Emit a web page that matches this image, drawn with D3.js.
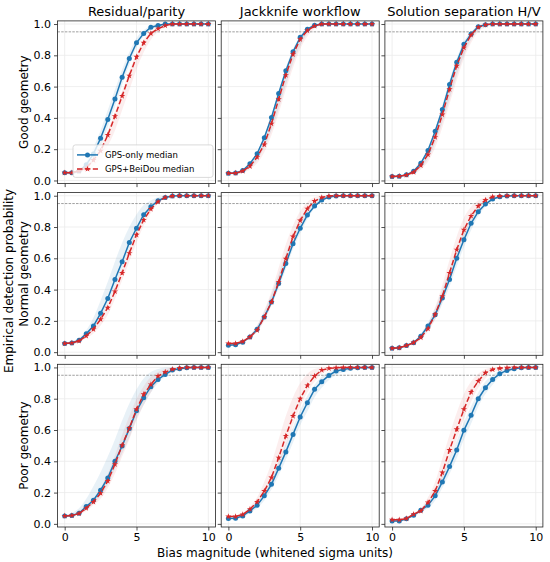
<!DOCTYPE html>
<html>
<head>
<meta charset="utf-8">
<script src="https://cdn.jsdelivr.net/npm/d3@7"></script>
<style>
  body { margin: 0; background: #fff; }
  text { font-family: "DejaVu Sans", sans-serif; fill: #000; }
</style>
</head>
<body>
<script>
// chart size
const width = 550;
const height = 562;

// labels
const colNames = ["Residual/parity", "Jackknife workflow", "Solution separation H/V"];
const rowNames = ["Good geometry", "Normal geometry", "Poor geometry"];
const xTicks = [0, 5, 10];
const yTicks = [0, 0.2, 0.4, 0.6, 0.8, 1.0];
const threshold = 0.95;

// bias magnitudes (x)
const biasX = [0, 0.5, 1, 1.5, 2, 2.5, 3, 3.5, 4, 4.5, 5, 5.5, 6, 6.5, 7, 7.5, 8, 8.5, 9, 9.5, 10];

// good geometry - residual/parity
const goodResGps   = [0.05,0.05,0.06,0.10,0.17,0.27,0.39,0.52,0.66,0.78,0.88,0.94,0.98,0.99,1,1,1,1,1,1,1];
const goodResGpsLo = [0.04,0.04,0.05,0.08,0.13,0.22,0.34,0.47,0.61,0.74,0.85,0.92,0.96,0.98,0.99,1,1,1,1,1,1];
const goodResGpsHi = [0.06,0.06,0.07,0.12,0.21,0.32,0.45,0.58,0.71,0.82,0.91,0.96,0.99,1,1,1,1,1,1,1,1];
const goodResBds   = [0.05,0.05,0.06,0.08,0.13,0.19,0.29,0.41,0.54,0.67,0.79,0.88,0.94,0.97,0.99,1,1,1,1,1,1];
const goodResBdsLo = [0.04,0.04,0.05,0.06,0.09,0.14,0.22,0.32,0.45,0.58,0.71,0.82,0.90,0.95,0.98,0.99,1,1,1,1,1];
const goodResBdsHi = [0.06,0.06,0.07,0.09,0.15,0.22,0.32,0.44,0.57,0.70,0.81,0.90,0.95,0.98,1,1,1,1,1,1,1];

// good geometry - jackknife
const goodJkGps   = [0.046,0.047,0.064,0.107,0.171,0.273,0.402,0.556,0.701,0.823,0.915,0.967,0.992,1,1,1,1,1,1,1,1];
const goodJkGpsLo = [0.04,0.04,0.05,0.08,0.13,0.21,0.32,0.46,0.61,0.75,0.86,0.94,0.98,0.99,1,1,1,1,1,1,1];
const goodJkGpsHi = [0.05,0.05,0.07,0.12,0.18,0.29,0.42,0.57,0.72,0.84,0.92,0.97,1,1,1,1,1,1,1,1,1];
const goodJkBds   = [0.046,0.047,0.06,0.091,0.149,0.23,0.363,0.519,0.673,0.806,0.902,0.958,0.988,1,1,1,1,1,1,1,1];
const goodJkBdsLo = [0.04,0.04,0.05,0.07,0.11,0.18,0.29,0.43,0.58,0.72,0.84,0.92,0.97,0.99,1,1,1,1,1,1,1];
const goodJkBdsHi = [0.05,0.05,0.07,0.10,0.16,0.25,0.38,0.53,0.69,0.82,0.91,0.96,0.99,1,1,1,1,1,1,1,1];

// good geometry - solution separation
const goodSsGps   = [0.025,0.027,0.036,0.059,0.11,0.192,0.314,0.453,0.614,0.755,0.87,0.936,0.983,0.995,1,1,1,1,1,1,1];
const goodSsGpsLo = [0.02,0.02,0.03,0.05,0.08,0.14,0.24,0.37,0.52,0.67,0.80,0.90,0.96,0.99,1,1,1,1,1,1,1];
const goodSsGpsHi = [0.03,0.03,0.04,0.07,0.12,0.21,0.33,0.48,0.64,0.78,0.89,0.95,0.99,1,1,1,1,1,1,1,1];
const goodSsBds   = [0.025,0.027,0.035,0.053,0.096,0.166,0.277,0.421,0.583,0.733,0.849,0.93,0.98,0.995,1,1,1,1,1,1,1];
const goodSsBdsLo = [0.02,0.02,0.03,0.04,0.07,0.12,0.21,0.34,0.49,0.64,0.78,0.88,0.95,0.98,1,1,1,1,1,1,1];
const goodSsBdsHi = [0.03,0.03,0.04,0.06,0.11,0.19,0.30,0.45,0.61,0.76,0.87,0.94,0.99,1,1,1,1,1,1,1,1];

// normal geometry - residual/parity
const normResGps   = [0.055,0.059,0.076,0.117,0.167,0.248,0.343,0.464,0.578,0.701,0.792,0.879,0.93,0.968,0.989,0.998,1,1,1,1,1];
const normResGpsLo = [0.05,0.05,0.07,0.10,0.15,0.22,0.31,0.42,0.54,0.66,0.76,0.86,0.92,0.96,0.98,0.99,1,1,1,1,1];
const normResGpsHi = [0.06,0.07,0.09,0.14,0.22,0.33,0.45,0.58,0.70,0.80,0.88,0.94,0.97,0.99,1,1,1,1,1,1,1];
const normResBds   = [0.055,0.059,0.072,0.104,0.146,0.21,0.284,0.388,0.506,0.633,0.75,0.845,0.915,0.962,0.989,0.998,1,1,1,1,1];
const normResBdsLo = [0.05,0.05,0.06,0.09,0.12,0.17,0.24,0.34,0.46,0.58,0.70,0.81,0.89,0.95,0.98,0.99,1,1,1,1,1];
const normResBdsHi = [0.06,0.07,0.08,0.11,0.16,0.23,0.31,0.42,0.54,0.66,0.78,0.87,0.93,0.97,0.99,1,1,1,1,1,1];

// normal geometry - jackknife
const normJkGps   = [0.044,0.047,0.064,0.097,0.146,0.225,0.32,0.439,0.566,0.693,0.792,0.877,0.934,0.972,0.992,0.998,1,1,1,1,1];
const normJkGpsLo = [0.04,0.04,0.06,0.09,0.13,0.21,0.30,0.41,0.53,0.66,0.76,0.85,0.92,0.96,0.99,0.99,1,1,1,1,1];
const normJkGpsHi = [0.05,0.05,0.07,0.11,0.17,0.26,0.37,0.50,0.63,0.75,0.85,0.92,0.96,0.99,1,1,1,1,1,1,1];
const normJkBds   = [0.055,0.056,0.068,0.097,0.14,0.225,0.32,0.449,0.597,0.739,0.841,0.917,0.966,0.989,0.998,1,1,1,1,1,1];
const normJkBdsLo = [0.05,0.05,0.06,0.09,0.13,0.20,0.30,0.42,0.56,0.70,0.81,0.89,0.95,0.98,0.99,1,1,1,1,1,1];
const normJkBdsHi = [0.06,0.06,0.08,0.11,0.17,0.27,0.39,0.54,0.69,0.81,0.90,0.96,0.99,1,1,1,1,1,1,1,1];

// normal geometry - solution separation
const normSsGps   = [0.025,0.028,0.042,0.061,0.102,0.167,0.239,0.347,0.464,0.6,0.718,0.824,0.898,0.947,0.979,0.994,0.998,1,1,1,1];
const normSsGpsLo = [0.02,0.02,0.04,0.05,0.09,0.15,0.21,0.31,0.42,0.55,0.67,0.78,0.87,0.93,0.97,0.99,1,1,1,1,1];
const normSsGpsHi = [0.03,0.03,0.05,0.07,0.12,0.19,0.28,0.40,0.53,0.66,0.77,0.86,0.93,0.97,0.99,1,1,1,1,1,1];
const normSsBds   = [0.025,0.028,0.042,0.061,0.093,0.15,0.242,0.358,0.506,0.655,0.782,0.871,0.934,0.972,0.994,0.998,1,1,1,1,1];
const normSsBdsLo = [0.02,0.02,0.04,0.05,0.08,0.13,0.21,0.32,0.46,0.61,0.74,0.84,0.91,0.96,0.99,0.99,1,1,1,1,1];
const normSsBdsHi = [0.03,0.03,0.05,0.07,0.11,0.18,0.29,0.43,0.59,0.74,0.86,0.93,0.97,0.99,1,1,1,1,1,1,1];

// poor geometry - residual/parity
const poorResGps   = [0.051,0.053,0.068,0.111,0.151,0.215,0.294,0.4,0.498,0.609,0.723,0.806,0.877,0.923,0.955,0.983,0.991,0.998,1,1,1];
const poorResGpsLo = [0.04,0.05,0.06,0.09,0.13,0.18,0.25,0.35,0.45,0.55,0.67,0.76,0.84,0.90,0.94,0.97,0.98,0.99,1,1,1];
const poorResGpsHi = [0.06,0.07,0.10,0.16,0.24,0.33,0.43,0.54,0.66,0.77,0.86,0.93,0.97,0.99,1,1,1,1,1,1,1];
const poorResBds   = [0.051,0.053,0.066,0.1,0.14,0.196,0.274,0.381,0.502,0.613,0.732,0.828,0.891,0.945,0.97,0.989,0.996,1,1,1,1];
const poorResBdsLo = [0.04,0.05,0.06,0.08,0.12,0.16,0.23,0.32,0.43,0.54,0.66,0.76,0.84,0.91,0.95,0.97,0.99,1,1,1,1];
const poorResBdsHi = [0.06,0.06,0.07,0.11,0.16,0.23,0.32,0.44,0.57,0.69,0.80,0.88,0.94,0.97,0.99,1,1,1,1,1,1];

// poor geometry - jackknife
const poorJkGps   = [0.034,0.036,0.051,0.083,0.119,0.179,0.253,0.355,0.46,0.572,0.683,0.774,0.86,0.909,0.949,0.977,0.987,0.994,0.998,1,1];
const poorJkGpsLo = [0.03,0.03,0.04,0.07,0.10,0.15,0.22,0.31,0.41,0.52,0.63,0.72,0.81,0.87,0.92,0.95,0.97,0.98,0.99,0.99,1];
const poorJkGpsHi = [0.04,0.04,0.06,0.09,0.14,0.21,0.29,0.40,0.51,0.62,0.73,0.82,0.89,0.94,0.97,0.99,1,1,1,1,1];
const poorJkBds   = [0.047,0.047,0.06,0.094,0.14,0.21,0.296,0.423,0.562,0.689,0.8,0.885,0.945,0.983,0.994,0.998,1,1,1,1,1];
const poorJkBdsLo = [0.04,0.04,0.05,0.08,0.12,0.18,0.26,0.37,0.50,0.63,0.75,0.84,0.91,0.96,0.98,0.99,1,1,1,1,1];
const poorJkBdsHi = [0.05,0.05,0.07,0.11,0.17,0.27,0.39,0.54,0.69,0.81,0.90,0.96,0.99,1,1,1,1,1,1,1,1];

// poor geometry - solution separation
const poorSsGps   = [0.019,0.019,0.032,0.055,0.087,0.119,0.179,0.268,0.366,0.472,0.598,0.694,0.8,0.87,0.923,0.96,0.981,0.991,0.998,1,1];
const poorSsGpsLo = [0.01,0.01,0.03,0.05,0.08,0.10,0.15,0.23,0.32,0.42,0.54,0.64,0.75,0.83,0.89,0.94,0.97,0.98,0.99,1,1];
const poorSsGpsHi = [0.02,0.02,0.04,0.06,0.10,0.14,0.21,0.31,0.42,0.53,0.65,0.75,0.84,0.91,0.95,0.98,0.99,1,1,1,1];
const poorSsBds   = [0.026,0.026,0.034,0.062,0.083,0.136,0.21,0.328,0.472,0.604,0.732,0.843,0.913,0.966,0.987,0.994,0.998,1,1,1,1];
const poorSsBdsLo = [0.02,0.02,0.03,0.05,0.07,0.11,0.18,0.28,0.41,0.54,0.67,0.78,0.87,0.93,0.97,0.98,0.99,1,1,1,1];
const poorSsBdsHi = [0.03,0.03,0.04,0.07,0.10,0.17,0.27,0.42,0.57,0.71,0.83,0.91,0.96,0.99,1,1,1,1,1,1,1];

// panel table [row][col]
const panels = [
  [ {gps: goodResGps, gpsLo: goodResGpsLo, gpsHi: goodResGpsHi, bds: goodResBds, bdsLo: goodResBdsLo, bdsHi: goodResBdsHi},
    {gps: goodJkGps,  gpsLo: goodJkGpsLo,  gpsHi: goodJkGpsHi,  bds: goodJkBds,  bdsLo: goodJkBdsLo,  bdsHi: goodJkBdsHi},
    {gps: goodSsGps,  gpsLo: goodSsGpsLo,  gpsHi: goodSsGpsHi,  bds: goodSsBds,  bdsLo: goodSsBdsLo,  bdsHi: goodSsBdsHi} ],
  [ {gps: normResGps, gpsLo: normResGpsLo, gpsHi: normResGpsHi, bds: normResBds, bdsLo: normResBdsLo, bdsHi: normResBdsHi},
    {gps: normJkGps,  gpsLo: normJkGpsLo,  gpsHi: normJkGpsHi,  bds: normJkBds,  bdsLo: normJkBdsLo,  bdsHi: normJkBdsHi},
    {gps: normSsGps,  gpsLo: normSsGpsLo,  gpsHi: normSsGpsHi,  bds: normSsBds,  bdsLo: normSsBdsLo,  bdsHi: normSsBdsHi} ],
  [ {gps: poorResGps, gpsLo: poorResGpsLo, gpsHi: poorResGpsHi, bds: poorResBds, bdsLo: poorResBdsLo, bdsHi: poorResBdsHi},
    {gps: poorJkGps,  gpsLo: poorJkGpsLo,  gpsHi: poorJkGpsHi,  bds: poorJkBds,  bdsLo: poorJkBdsLo,  bdsHi: poorJkBdsHi},
    {gps: poorSsGps,  gpsLo: poorSsGpsLo,  gpsHi: poorSsGpsHi,  bds: poorSsBds,  bdsLo: poorSsBdsLo,  bdsHi: poorSsBdsHi} ]
];

// layout
const left0 = 57.5, top0 = 20.9;
const pw = 158, ph = 162.7;
const colStep = 163.7, rowStep = 171.7;
const blue = "#1f77b4", red = "#d62728";

const svg = d3.select("body").append("svg")
  .attr("width", width)
  .attr("height", height);

// scales (same for every panel, drawn in local coords)
const xScale = d3.scaleLinear().domain([-0.5, 10.5]).range([0, pw]);
const yScale = d3.scaleLinear().domain([-0.02, 1.02]).range([ph, 0]);

const line = d3.line().x((d, i) => xScale(biasX[i])).y(d => yScale(d));
const star = d3.symbol().type(d3.symbolStar).size(12);

panels.forEach((row, r) => {
  row.forEach((p, c) => {
    const g = svg.append("g")
      .attr("transform", `translate(${left0 + c * colStep},${top0 + r * rowStep})`);

    // grid
    g.selectAll(".gx").data(xTicks).enter().append("line")
      .attr("x1", d => xScale(d)).attr("x2", d => xScale(d))
      .attr("y1", 0).attr("y2", ph)
      .attr("stroke", "#ebebeb").attr("stroke-width", 0.8);
    g.selectAll(".gy").data(yTicks).enter().append("line")
      .attr("x1", 0).attr("x2", pw)
      .attr("y1", d => yScale(d)).attr("y2", d => yScale(d))
      .attr("stroke", "#ebebeb").attr("stroke-width", 0.8);

    // bands
    const band = (lo, hi) => d3.area()
      .x((d, i) => xScale(biasX[i]))
      .y0((d, i) => yScale(lo[i]))
      .y1((d, i) => yScale(hi[i]))
      .curve(d3.curveMonotoneX)(biasX);
    g.append("path").attr("d", band(p.gpsLo, p.gpsHi))
      .attr("fill", blue).attr("fill-opacity", 0.1);
    g.append("path").attr("d", band(p.bdsLo, p.bdsHi))
      .attr("fill", red).attr("fill-opacity", 0.08);

    // 0.95 reference
    g.append("line")
      .attr("x1", 0).attr("x2", pw)
      .attr("y1", yScale(threshold)).attr("y2", yScale(threshold))
      .attr("stroke", "#888").attr("stroke-width", 0.8)
      .attr("stroke-dasharray", "2.5,1.2");

    // GPS-only
    g.append("path").attr("d", line(p.gps))
      .attr("fill", "none").attr("stroke", blue).attr("stroke-width", 1.5);
    g.selectAll(".pg").data(p.gps).enter().append("circle")
      .attr("cx", (d, i) => xScale(biasX[i]))
      .attr("cy", d => yScale(d))
      .attr("r", 2.5).attr("fill", blue);

    // GPS+BeiDou
    g.append("path").attr("d", line(p.bds))
      .attr("fill", "none").attr("stroke", red).attr("stroke-width", 1.5)
      .attr("stroke-dasharray", "5.5,2.4");
    g.selectAll(".pb").data(p.bds).enter().append("path")
      .attr("d", star)
      .attr("transform", (d, i) => `translate(${xScale(biasX[i])},${yScale(d)})`)
      .attr("fill", red);

    // axes
    const xAxis = d3.axisBottom(xScale).tickValues(xTicks).tickSize(3.5).tickPadding(3)
      .tickFormat(r === 2 ? d3.format("d") : () => "");
    const yAxis = d3.axisLeft(yScale).tickValues(yTicks).tickSize(3.5).tickPadding(3)
      .tickFormat(c === 0 ? d3.format(".1f") : () => "");
    const gx = g.append("g").attr("transform", `translate(0,${ph})`).call(xAxis);
    const gy = g.append("g").call(yAxis);
    [gx, gy].forEach(a => {
      a.select(".domain").remove();
      a.selectAll("line").attr("stroke", "#222").attr("stroke-width", 0.8);
      a.selectAll("text").style("font-size", "11px").style("font-family", "DejaVu Sans");
    });

    // frame
    g.append("rect").attr("width", pw).attr("height", ph)
      .attr("fill", "none").attr("stroke", "#222").attr("stroke-width", 0.8);

    if (r === 0) {
      g.append("text").attr("x", pw / 2).attr("y", -4.5)
        .attr("text-anchor", "middle").style("font-size", "13px")
        .text(colNames[c]);
    }
    if (c === 0) {
      g.append("text")
        .attr("transform", `translate(${-30},${ph / 2}) rotate(-90)`)
        .attr("text-anchor", "middle").style("font-size", "12px")
        .text(rowNames[r]);
    }

    // legend
    if (r === 0 && c === 0) {
      const lg = g.append("g").attr("transform", "translate(15.5,124)");
      lg.append("rect").attr("width", 140).attr("height", 32.5).attr("rx", 2.5)
        .attr("fill", "#fff").attr("fill-opacity", 0.8)
        .attr("stroke", "#d0d0d0").attr("stroke-width", 0.8);
      lg.append("line").attr("x1", 4).attr("x2", 25).attr("y1", 10).attr("y2", 10)
        .attr("stroke", blue).attr("stroke-width", 1.5);
      lg.append("circle").attr("cx", 14.5).attr("cy", 10).attr("r", 2.5).attr("fill", blue);
      lg.append("text").attr("x", 32).attr("y", 13).style("font-size", "8.5px").text("GPS-only median");
      lg.append("line").attr("x1", 4).attr("x2", 25).attr("y1", 24).attr("y2", 24)
        .attr("stroke", red).attr("stroke-width", 1.5).attr("stroke-dasharray", "5.5,2.4");
      lg.append("path").attr("d", star).attr("transform", "translate(14.5,24)").attr("fill", red);
      lg.append("text").attr("x", 32).attr("y", 27).style("font-size", "8.5px").text("GPS+BeiDou median");
    }
  });
});

// shared labels
svg.append("text")
  .attr("transform", `translate(13,${height / 2}) rotate(-90)`)
  .attr("text-anchor", "middle").style("font-size", "12px")
  .text("Empirical detection probability");
svg.append("text")
  .attr("x", width / 2).attr("y", 556.5)
  .attr("text-anchor", "middle").style("font-size", "12px")
  .text("Bias magnitude (whitened sigma units)");
</script>
</body>
</html>
